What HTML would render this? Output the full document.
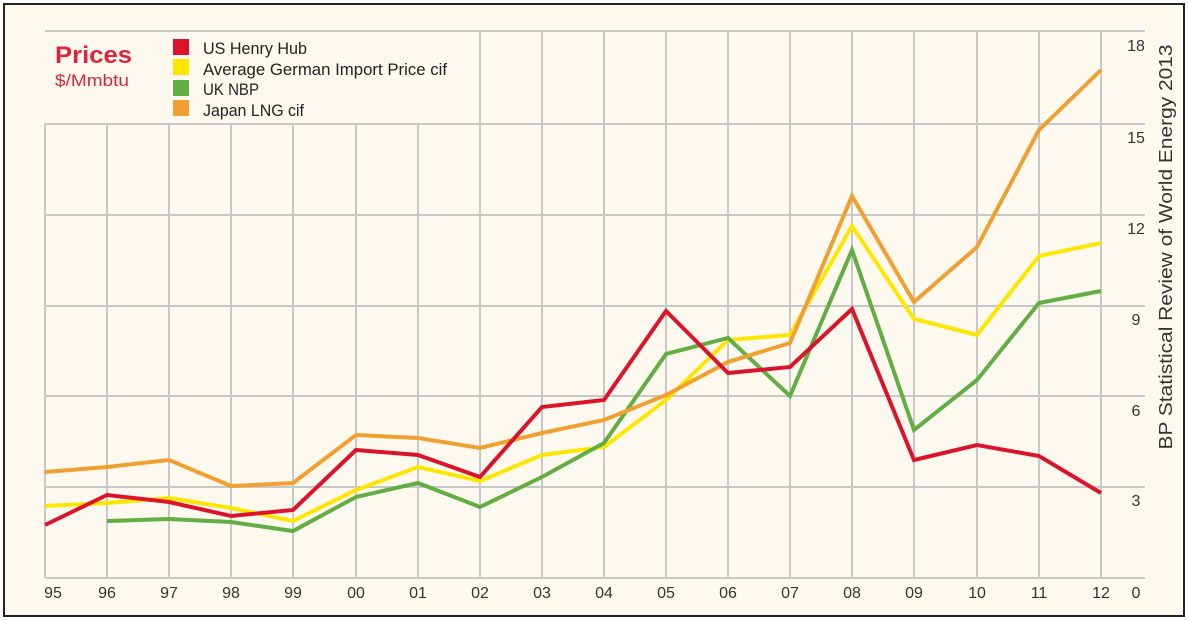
<!DOCTYPE html>
<html><head><meta charset="utf-8"><style>
html,body{margin:0;padding:0;background:#fff;}
svg{display:block;font-family:"Liberation Sans",sans-serif;}
</style></head><body>
<svg width="1189" height="621" viewBox="0 0 1189 621">
<rect x="4" y="4" width="1180" height="612" fill="#fdf9ef" stroke="#222" stroke-width="2"/>
<g stroke="#c8c8c8" stroke-width="2">
<line x1="45" y1="31" x2="1145" y2="31"/>
<line x1="45" y1="124" x2="1145" y2="124"/>
<line x1="45" y1="215" x2="1145" y2="215"/>
<line x1="45" y1="306" x2="1145" y2="306"/>
<line x1="45" y1="396" x2="1145" y2="396"/>
<line x1="45" y1="487" x2="1145" y2="487"/>
<line x1="45" y1="578" x2="1145" y2="578"/>
<line x1="45" y1="124" x2="45" y2="578"/>
<line x1="107" y1="124" x2="107" y2="578"/>
<line x1="169" y1="124" x2="169" y2="578"/>
<line x1="231" y1="124" x2="231" y2="578"/>
<line x1="293" y1="124" x2="293" y2="578"/>
<line x1="356" y1="124" x2="356" y2="578"/>
<line x1="418" y1="124" x2="418" y2="578"/>
<line x1="480" y1="31" x2="480" y2="578"/>
<line x1="542" y1="31" x2="542" y2="578"/>
<line x1="604" y1="31" x2="604" y2="578"/>
<line x1="666" y1="31" x2="666" y2="578"/>
<line x1="728" y1="31" x2="728" y2="578"/>
<line x1="790" y1="31" x2="790" y2="578"/>
<line x1="852" y1="31" x2="852" y2="578"/>
<line x1="914" y1="31" x2="914" y2="578"/>
<line x1="977" y1="31" x2="977" y2="578"/>
<line x1="1039" y1="31" x2="1039" y2="578"/>
<line x1="1101" y1="31" x2="1101" y2="578"/>
</g>
<g fill="none" stroke-width="4" stroke-linejoin="miter">
<polyline stroke="#ffe600" points="45,506 107,503 169,498 231,508 293,521 356,490 418,467 480,481 542,455 604,447 666,400 728,340 790,335 852,226 914,319 977,335 1039,256 1101,243"/>
<polyline stroke="#62ad44" points="107,521 169,519 231,522 293,531 356,497 418,483 480,507 542,477 604,443 666,354 728,338 790,396 852,250 914,430 977,380 1039,303 1101,291"/>
<polyline stroke="#f0a030" points="45,472 107,467 169,460 231,486 293,483 356,435 418,438 480,448 542,433 604,420 666,395 728,362 790,343 852,196 914,302 977,247 1039,130 1101,70"/>
<polyline stroke="#d9142b" points="45,525 107,495 169,502 231,516 293,510 356,450 418,455 480,477 542,407 604,400 666,311 728,373 790,367 852,309 914,460 977,445 1039,456 1101,493"/>
</g>
<g font-size="16" fill="#333" text-anchor="middle">
<text x="53" y="598">95</text><text x="107" y="598">96</text><text x="169" y="598">97</text><text x="231" y="598">98</text><text x="293" y="598">99</text><text x="356" y="598">00</text><text x="418" y="598">01</text><text x="480" y="598">02</text><text x="542" y="598">03</text><text x="604" y="598">04</text><text x="666" y="598">05</text><text x="728" y="598">06</text><text x="790" y="598">07</text><text x="852" y="598">08</text><text x="914" y="598">09</text><text x="977" y="598">10</text><text x="1039" y="598">11</text><text x="1101" y="598">12</text><text x="1136" y="598">0</text>
<text x="1136" y="506">3</text><text x="1136" y="416">6</text><text x="1136" y="325">9</text><text x="1136" y="234">12</text><text x="1136" y="143">15</text><text x="1136" y="51">18</text>
</g>
<text transform="translate(1172,247) rotate(-90)" font-size="18" fill="#333" text-anchor="middle" textLength="405" lengthAdjust="spacingAndGlyphs">BP Statistical Review of World Energy 2013</text>
<text x="55" y="63" font-size="24" font-weight="bold" fill="#d9263a" textLength="77" lengthAdjust="spacingAndGlyphs">Prices</text>
<text x="55" y="86" font-size="17" fill="#d9263a" textLength="74" lengthAdjust="spacingAndGlyphs">$/Mmbtu</text>
<rect x="173" y="39" width="16" height="16" fill="#d9142b"/>
<rect x="173" y="59" width="16" height="16" fill="#ffe600"/>
<rect x="173" y="80" width="16" height="16" fill="#62ad44"/>
<rect x="173" y="100" width="16" height="16" fill="#f0a030"/>
<g font-size="17" fill="#222">
<text x="203" y="54" textLength="104" lengthAdjust="spacingAndGlyphs">US Henry Hub</text>
<text x="203" y="75" textLength="244" lengthAdjust="spacingAndGlyphs">Average German Import Price cif</text>
<text x="203" y="95" textLength="56" lengthAdjust="spacingAndGlyphs">UK NBP</text>
<text x="203" y="116" textLength="101" lengthAdjust="spacingAndGlyphs">Japan LNG cif</text>
</g>
</svg>
</body></html>
